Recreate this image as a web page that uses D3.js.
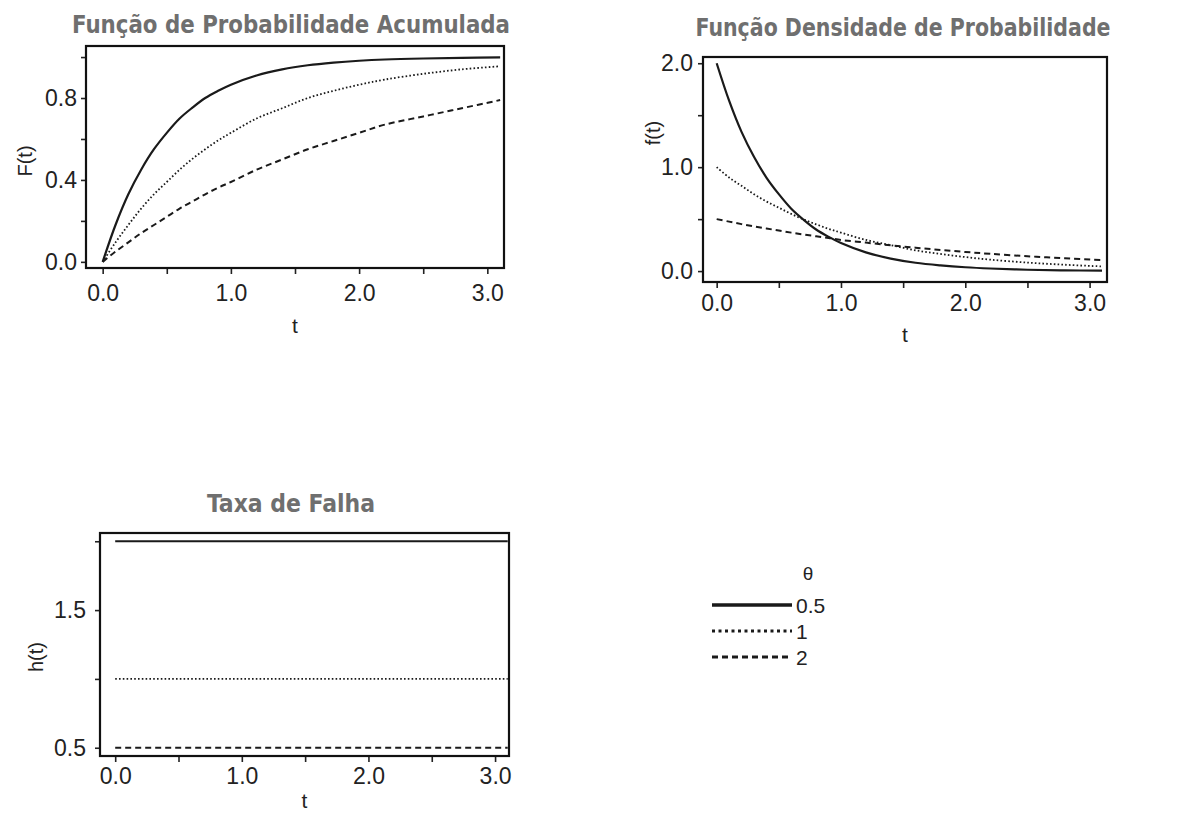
<html>
<head><meta charset="utf-8"/></head>
<script src="https://d3js.org/d3.v7.min.js"></script>
<style>
  body { margin: 0; background: #fff; }
  text { font-family: "Liberation Sans", Arial, sans-serif; fill: #222; }
  .title { font-family: "DejaVu Sans Condensed", "DejaVu Sans", sans-serif; font-weight: bold; fill: #6f6f6f; }
  .tick line { stroke: #222; stroke-width: 1.6; }
  .domain { display: none; }
</style>
<body>
<svg id="chart" width="1178" height="816"></svg>
<script>
// t values where the curves were read
var tGrid = [0, 0.1, 0.2, 0.3, 0.4, 0.5, 0.6, 0.7, 0.8, 0.9, 1.0, 1.2, 1.4, 1.6, 1.8, 2.0, 2.2, 2.5, 2.8, 3.1];

// F(t)
var cdf05 = [0, 0.18, 0.33, 0.45, 0.55, 0.63, 0.70, 0.753, 0.80, 0.835, 0.865, 0.91, 0.94, 0.96, 0.973, 0.982, 0.988, 0.993, 0.996, 0.998];
var cdf1  = [0, 0.095, 0.18, 0.26, 0.33, 0.39, 0.45, 0.503, 0.55, 0.593, 0.63, 0.70, 0.75, 0.80, 0.835, 0.865, 0.89, 0.918, 0.94, 0.955];
var cdf2  = [0, 0.05, 0.095, 0.14, 0.18, 0.22, 0.26, 0.295, 0.33, 0.362, 0.39, 0.45, 0.50, 0.55, 0.59, 0.63, 0.67, 0.71, 0.75, 0.79];

// f(t)
var pdf05 = [2.0, 1.64, 1.34, 1.10, 0.90, 0.74, 0.60, 0.493, 0.40, 0.33, 0.27, 0.18, 0.12, 0.08, 0.055, 0.037, 0.025, 0.013, 0.007, 0.004];
var pdf1  = [1.0, 0.90, 0.82, 0.74, 0.67, 0.61, 0.55, 0.497, 0.45, 0.407, 0.37, 0.30, 0.25, 0.20, 0.165, 0.135, 0.11, 0.082, 0.061, 0.045];
var pdf2  = [0.5, 0.476, 0.452, 0.43, 0.41, 0.39, 0.37, 0.352, 0.335, 0.319, 0.30, 0.274, 0.248, 0.225, 0.203, 0.184, 0.166, 0.143, 0.123, 0.106];

// h(t), flat lines
var hGrid = [0, 3.1];
var haz05 = [2, 2];
var haz1  = [1, 1];
var haz2  = [0.5, 0.5];

var thetaTitle = "\u03b8";
var thetaLabels = ["0.5", "1", "2"];

var xTicks = [0, 0.5, 1, 1.5, 2, 2.5, 3];
var xTickLabels = {0: "0.0", 1: "1.0", 2: "2.0", 3: "3.0"};

var styles = [
  {width: 2.2, dash: null},
  {width: 1.8, dash: "1.6,2.2"},
  {width: 2.0, dash: "6,4"}
];

var svg = d3.select("#chart");

function panel(o) {
  var x = d3.scaleLinear().domain(o.xdom).range([o.left, o.right]);
  var y = d3.scaleLinear().domain(o.ydom).range([o.bottom, o.top]);
  var g = svg.append("g");

  g.append("g")
    .attr("transform", "translate(0," + o.bottom + ")")
    .call(d3.axisBottom(x).tickValues(xTicks).tickSize(6).tickSizeOuter(0).tickPadding(o.xpad)
      .tickFormat(function(d) { return xTickLabels[d] || ""; }))
    .selectAll("text").style("font-size", "23px").attr("fill", "#222");

  g.append("g")
    .attr("transform", "translate(" + o.left + ",0)")
    .call(d3.axisLeft(y).tickValues(o.yticks).tickSize(5).tickSizeOuter(0).tickPadding(o.ypad)
      .tickFormat(function(d) { return o.ylabels[d] || ""; }))
    .selectAll("text").style("font-size", "23px").attr("fill", "#222");

  var line = d3.line()
    .x(function(d) { return x(d[0]); })
    .y(function(d) { return y(d[1]); })
    .curve(d3.curveCatmullRom.alpha(0.5));

  o.series.forEach(function(s, i) {
    var pts = o.t.map(function(t, j) { return [t, s[j]]; });
    g.append("path")
      .attr("d", line(pts))
      .attr("fill", "none")
      .attr("stroke", "#1a1a1a")
      .attr("stroke-width", styles[i].width)
      .attr("stroke-dasharray", styles[i].dash);
  });

  g.append("rect")
    .attr("x", o.left).attr("y", o.top)
    .attr("width", o.right - o.left).attr("height", o.bottom - o.top)
    .attr("fill", "none").attr("stroke", "#111").attr("stroke-width", 2.2);

  g.append("text").attr("class", "title")
    .attr("x", o.titleX).attr("y", o.titleY)
    .attr("text-anchor", "middle")
    .attr("textLength", o.titleW).attr("lengthAdjust", "spacingAndGlyphs")
    .style("font-size", "25px")
    .text(o.title);

  g.append("text")
    .attr("x", (o.left + o.right) / 2).attr("y", o.tY)
    .attr("text-anchor", "middle").style("font-size", "21px")
    .text("t");

  g.append("text")
    .attr("transform", "translate(" + o.yLabX + "," + o.yLabY + ") rotate(-90)")
    .attr("text-anchor", "middle").style("font-size", "20px")
    .text(o.ylab);
}

panel({
  left: 86, right: 504, top: 46, bottom: 268,
  xdom: [-0.13, 3.13], ydom: [-0.03, 1.054],
  yticks: [0, 0.2, 0.4, 0.6, 0.8, 1.0], ylabels: {0: "0.0", 0.4: "0.4", 0.8: "0.8"},
  xpad: 11, ypad: 4,
  t: tGrid, series: [cdf05, cdf1, cdf2],
  title: "Fun\u00e7\u00e3o de Probabilidade Acumulada", titleX: 291, titleY: 33, titleW: 438,
  tY: 333, ylab: "F(t)", yLabX: 32, yLabY: 161
});

panel({
  left: 703, right: 1107, top: 57, bottom: 282,
  xdom: [-0.11, 3.14], ydom: [-0.105, 2.06],
  yticks: [0, 0.5, 1, 1.5, 2], ylabels: {0: "0.0", 1: "1.0", 2: "2.0"},
  xpad: 7, ypad: 5,
  t: tGrid, series: [pdf05, pdf1, pdf2],
  title: "Fun\u00e7\u00e3o Densidade de Probabilidade", titleX: 903, titleY: 36, titleW: 415,
  tY: 342, ylab: "f(t)", yLabX: 660, yLabY: 133
});

panel({
  left: 100, right: 509, top: 533, bottom: 756,
  xdom: [-0.12, 3.11], ydom: [0.44, 2.06],
  yticks: [0.5, 1, 1.5, 2], ylabels: {0.5: "0.5", 1.5: "1.5"},
  xpad: 6, ypad: 9,
  t: hGrid, series: [haz05, haz1, haz2],
  title: "Taxa de Falha", titleX: 291, titleY: 512, titleW: 168,
  tY: 808, ylab: "h(t)", yLabX: 43, yLabY: 657
});

// legend
var leg = svg.append("g");
leg.append("text").attr("x", 808).attr("y", 580).attr("text-anchor", "middle")
  .style("font-size", "19px").text(thetaTitle);
thetaLabels.forEach(function(lab, i) {
  var yy = 605 + i * 26;
  leg.append("line")
    .attr("x1", 712).attr("x2", 792).attr("y1", yy).attr("y2", yy)
    .attr("stroke", "#1a1a1a")
    .attr("stroke-width", styles[i].width + 1.2)
    .attr("stroke-dasharray", i === 1 ? "3,3.5" : styles[i].dash);
  leg.append("text").attr("x", 796).attr("y", yy + 8)
    .style("font-size", "21px").text(lab);
});
</script>
</body>
</html>
